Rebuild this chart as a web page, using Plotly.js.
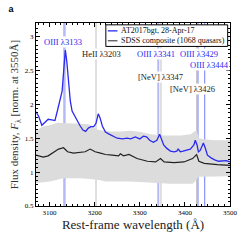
<!DOCTYPE html>
<html><head><meta charset="utf-8">
<script src="https://cdn.plot.ly/plotly-3.0.1.min.js"></script>
<style>html,body{margin:0;padding:0;background:#fff}#c{width:240px;height:240px}</style>
</head><body><div id="c"></div>
<script>
// AT2017bgt spectrum (blue)
const blueWave = [3070,3076,3083,3090,3097,3105,3112,3118,3124,3128,3132,3135,3138,3142,3146,3150,3156,3162,3168,3174,3180,3186,3192,3198,3203,3208,3212,3217,3224,3232,3240,3250,3262,3272,3280,3290,3300,3308,3315,3322,3330,3338,3344,3348,3353,3360,3368,3376,3382,3385,3390,3396,3404,3412,3420,3423,3427,3430,3434,3437,3441,3445,3450,3458,3466,3475,3485,3492,3500];
const blueFlux = [1.89,1.82,1.69,1.74,1.78,1.77,1.76,1.92,2.08,2.20,2.55,2.80,2.65,2.28,2.05,1.90,1.82,1.76,1.68,1.62,1.60,1.65,1.67,1.67,1.72,1.86,1.80,1.68,1.59,1.56,1.53,1.50,1.49,1.50,1.49,1.52,1.49,1.53,1.52,1.47,1.44,1.47,1.56,1.50,1.40,1.35,1.31,1.30,1.31,1.34,1.30,1.31,1.32,1.34,1.40,1.47,1.40,1.30,1.32,1.37,1.43,1.36,1.25,1.21,1.18,1.16,1.16,1.17,1.15];
// SDSS composite (black)
const compWave = [3070,3086,3097,3109,3120,3131,3140,3153,3168,3179,3190,3201,3213,3224,3239,3253,3257,3264,3276,3294,3317,3335,3346,3354,3376,3398,3417,3426,3431,3443,3472,3500];
const compFlux = [1.25,1.22,1.24,1.29,1.34,1.36,1.30,1.28,1.29,1.30,1.34,1.30,1.28,1.26,1.25,1.24,1.27,1.24,1.26,1.20,1.16,1.15,1.20,1.15,1.14,1.15,1.20,1.26,1.16,1.13,1.11,1.10];
// composite scatter band (grey)
const bandUpWave = [3070,3088,3101,3117,3139,3161,3184,3192,3204,3221,3235,3257,3279,3302,3324,3353,3391,3413,3422,3426,3431,3446,3469,3500];
const bandUp = [1.61,1.68,1.69,1.73,1.72,1.71,1.71,1.69,1.63,1.61,1.60,1.60,1.61,1.59,1.56,1.54,1.54,1.56,1.60,1.62,1.50,1.48,1.47,1.47];
const bandLoWave = [3070,3101,3115,3130,3168,3190,3213,3224,3279,3324,3368,3417,3424,3431,3457,3500];
const bandLo = [0.84,0.86,0.89,0.91,0.91,0.90,0.88,0.86,0.86,0.84,0.83,0.83,0.87,0.93,0.94,0.94];
// line markers
const lineNames = ["OIII λ3133","HeII λ3203","OIII λ3341","[NeV] λ3347","[NeV] λ3426","OIII λ3429","OIII λ3444"];
const lineWave = [3133,3203,3341,3347,3426,3429,3444];
const lineKind = ["oiii","other","oiii","other","other","oiii","oiii"];
const seriesNames = ["AT2017bgt, 28-Apr-17","SDSS composite (1068 quasars)"];
const xTicks = [3100,3200,3300,3400,3500];
const yTicks = [0.5,1,1.5,2,2.5,3];

const serif = "Liberation Serif, Times New Roman, serif";
const blue = "#2a2af0";

const bandX = bandUpWave.concat(bandLoWave.slice().reverse());
const bandY = bandUp.concat(bandLo.slice().reverse());

const traces = [
  {x: bandX, y: bandY, type:'scatter', mode:'lines', fill:'toself', fillcolor:'#dcdcdc', line:{width:0}, hoverinfo:'skip'},
  {x: blueWave, y: blueFlux, type:'scatter', mode:'lines', name:seriesNames[0], line:{color:blue, width:1.3}},
  {x: compWave, y: compFlux, type:'scatter', mode:'lines', name:seriesNames[1], line:{color:'#222', width:1.2}}
];

const shapes = lineWave.map((w,i)=>{
  let st;
  if (i===0) st = {color:'rgba(120,130,240,0.55)', width:2.5};
  else if (i===2) st = {color:'rgba(120,130,240,0.55)', width:2};
  else if (lineKind[i]==='oiii') st = {color:'rgba(80,90,240,0.8)', width:1};
  else st = {color:'#b0b0b0', width:0.8};
  return {type:'line', xref:'x', yref:'paper', x0:w, x1:w, y0:0, y1:1, line:st, layer:'below'};
});
// legend box (manual)
shapes.push({type:'rect', xref:'paper', yref:'paper', x0:0.36, x1:0.988, y0:0.872, y1:0.99, line:{color:'#000', width:1}, fillcolor:'#fff', layer:'above'});
shapes.push({type:'line', xref:'paper', yref:'paper', x0:0.37, x1:0.42, y0:0.957, y1:0.957, line:{color:blue, width:1.3}, layer:'above'});
shapes.push({type:'line', xref:'paper', yref:'paper', x0:0.37, x1:0.42, y0:0.903, y1:0.903, line:{color:'#555', width:1.3}, layer:'above'});

const labelPos = [[3130,2.92],[3215,2.75],[3335,2.75],[3346,2.41],[3417,2.22],[3431,2.75],[3455,2.58]];
const annotations = lineNames.map((n,i)=>({
  x: labelPos[i][0], y: labelPos[i][1], xref:'x', yref:'y', text:n, showarrow:false,
  font:{family:serif, size:8.5, color: lineKind[i]==='oiii' ? blue : '#222'},
  bgcolor:'#fff', borderpad:0
}));
annotations.push({x:0.43, y:0.957, xref:'paper', yref:'paper', xanchor:'left', yanchor:'middle', text:seriesNames[0], showarrow:false, font:{family:serif, size:8, color:'#111'}});
annotations.push({x:0.43, y:0.903, xref:'paper', yref:'paper', xanchor:'left', yanchor:'middle', text:seriesNames[1], showarrow:false, font:{family:serif, size:8, color:'#111'}});

const layout = {
  width:240, height:240,
  margin:{l:36, r:10, t:23, b:34},
  paper_bgcolor:'#fff', plot_bgcolor:'#fff',
  title:{text:'<b>a</b>', font:{family:'Liberation Sans, Arial', size:9, color:'#000'}, xref:'container', yref:'container', x:0.035, y:0.965, xanchor:'left', yanchor:'middle'},
  showlegend:false,
  xaxis:{range:[3070,3500], tickvals:xTicks, ticks:'inside', ticklen:4, tickcolor:'#000', showline:true, linecolor:'#000', linewidth:1, mirror:'ticks',
         showgrid:false, zeroline:false, tickfont:{family:serif, size:7, color:'#000'},
         minor:{dtick:12.5, ticks:'inside', ticklen:2, tickcolor:'#000', showgrid:false},
         title:{text:'Rest-frame wavelength (Å)', font:{family:serif, size:13, color:'#222'}, standoff:2}},
  yaxis:{range:[0.5,3.2], tickvals:yTicks, ticktext:['0.5','1','1.5','2','2.5','3'], ticks:'inside', ticklen:4, tickcolor:'#000', showline:true, linecolor:'#000', linewidth:1, mirror:'ticks',
         showgrid:false, zeroline:false, tickfont:{family:serif, size:7, color:'#000'},
         minor:{dtick:0.0625, ticks:'inside', ticklen:2, tickcolor:'#000', showgrid:false},
         title:{text:'Flux density, <i>F</i><sub>λ</sub> [norm. at 3550Å]', font:{family:serif, size:11, color:'#333'}, standoff:3}},
  shapes: shapes,
  annotations: annotations
};
Plotly.newPlot('c', traces, layout, {staticPlot:true, displayModeBar:false});
</script></body></html>
